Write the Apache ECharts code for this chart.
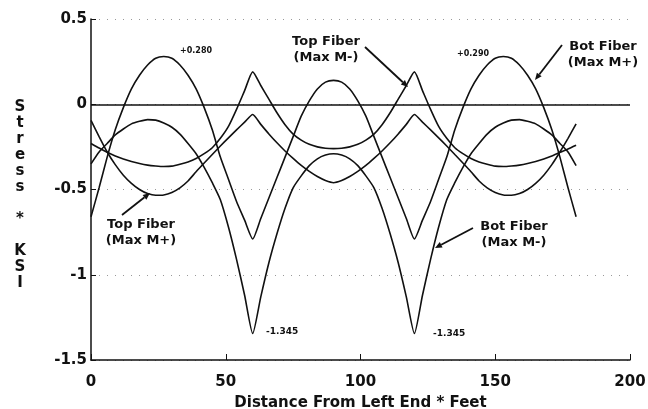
<!DOCTYPE html>
<html>
<head>
<meta charset="utf-8">
<script src="https://cdn.jsdelivr.net/npm/echarts@6/dist/echarts.min.js"></script>
<style>
  html, body { margin: 0; padding: 0; background: #fff; }
  #chart { width: 648px; height: 409px; }
</style>
</head>
<body>
<div id="chart"></div>
<script>
// distance from left end, feet (3 spans of 60 ft)
const distance = [0, 3, 6, 9, 12, 15, 18, 21, 24, 27, 30, 33, 36, 39, 42, 45, 48, 51, 54, 57, 60,
  63, 66, 69, 72, 75, 78, 81, 84, 87, 90, 93, 96, 99, 102, 105, 108, 111, 114, 117, 120,
  123, 126, 129, 132, 135, 138, 141, 144, 147, 150, 153, 156, 159, 162, 165, 168, 171, 174, 177, 180];

// stress, ksi
const botMaxPos = [-0.66, -0.49, -0.31, -0.15, -0.02, 0.09, 0.17, 0.23, 0.27, 0.28, 0.27, 0.23, 0.17, 0.09, -0.02, -0.15, -0.31, -0.44, -0.57, -0.68, -0.79,
  -0.67, -0.55, -0.43, -0.31, -0.19, -0.07, 0.02, 0.09, 0.13, 0.14, 0.13, 0.09, 0.02, -0.07, -0.19, -0.31, -0.43, -0.55, -0.67, -0.79,
  -0.68, -0.57, -0.44, -0.31, -0.15, -0.02, 0.09, 0.17, 0.23, 0.27, 0.28, 0.27, 0.23, 0.17, 0.09, -0.02, -0.15, -0.31, -0.49, -0.66];

const botMaxNeg = [-0.35, -0.28, -0.23, -0.18, -0.145, -0.115, -0.1, -0.09, -0.093, -0.11, -0.135, -0.175, -0.23, -0.29, -0.37, -0.46, -0.56, -0.72, -0.91, -1.12, -1.345,
  -1.13, -0.93, -0.76, -0.61, -0.49, -0.42, -0.36, -0.32, -0.298, -0.29, -0.298, -0.32, -0.36, -0.42, -0.49, -0.61, -0.76, -0.93, -1.13, -1.345,
  -1.12, -0.91, -0.72, -0.56, -0.46, -0.37, -0.29, -0.23, -0.175, -0.135, -0.11, -0.093, -0.09, -0.1, -0.115, -0.145, -0.18, -0.23, -0.28, -0.36];

const topMaxNeg = [-0.23, -0.257, -0.282, -0.303, -0.321, -0.336, -0.348, -0.357, -0.362, -0.365, -0.363, -0.352, -0.338, -0.318, -0.29, -0.255, -0.2, -0.13, -0.03, 0.08, 0.19,
  0.11, 0.03, -0.05, -0.12, -0.175, -0.21, -0.235, -0.25, -0.258, -0.26, -0.258, -0.25, -0.235, -0.21, -0.175, -0.12, -0.05, 0.03, 0.11, 0.19,
  0.08, -0.03, -0.13, -0.2, -0.255, -0.29, -0.318, -0.338, -0.352, -0.363, -0.365, -0.362, -0.357, -0.348, -0.336, -0.321, -0.303, -0.282, -0.262, -0.24];

const topMaxPos = [-0.094, -0.19, -0.28, -0.354, -0.416, -0.464, -0.5, -0.524, -0.534, -0.532, -0.517, -0.49, -0.45, -0.396, -0.345, -0.295, -0.245, -0.197, -0.15, -0.105, -0.06,
  -0.118, -0.174, -0.226, -0.274, -0.318, -0.359, -0.394, -0.424, -0.447, -0.46, -0.447, -0.424, -0.394, -0.359, -0.318, -0.274, -0.226, -0.174, -0.118, -0.06,
  -0.105, -0.15, -0.197, -0.245, -0.295, -0.345, -0.396, -0.45, -0.49, -0.517, -0.532, -0.534, -0.524, -0.5, -0.464, -0.416, -0.354, -0.28, -0.2, -0.115];

const yTicks = [-1.5, -1, -0.5, 0, 0.5];
const xTicks = [0, 50, 100, 150, 200];

const font = "DejaVu Sans";
const ink = "#111";

const myChart = echarts.init(document.getElementById("chart"));

function pairs(arr) {
  return distance.map((d, i) => [d, arr[i]]);
}

function lineSeries(name, arr) {
  return {
    name: name,
    type: "line",
    data: pairs(arr),
    showSymbol: false,
    smooth: 0.2,
    lineStyle: { color: ink, width: 1.6 },
    itemStyle: { color: ink },
  };
}

// arrow = line + small filled head at (x2,y2)
function arrow(x1, y1, x2, y2) {
  const a = Math.atan2(y2 - y1, x2 - x1);
  const len = 7, w = 3;
  const bx = x2 - len * Math.cos(a), by = y2 - len * Math.sin(a);
  return {
    type: "group",
    children: [
      { type: "line", shape: { x1: x1, y1: y1, x2: bx, y2: by }, style: { stroke: ink, lineWidth: 1.8 } },
      {
        type: "polygon",
        shape: {
          points: [
            [x2, y2],
            [bx + w * Math.sin(a), by - w * Math.cos(a)],
            [bx - w * Math.sin(a), by + w * Math.cos(a)],
          ],
        },
        style: { fill: ink },
      },
    ],
  };
}

function label(text, x, y, size, align) {
  return {
    type: "text",
    x: x,
    y: y,
    style: {
      text: text,
      font: "bold " + size + "px '" + font + "'",
      fill: ink,
      align: align || "center",
      verticalAlign: "middle",
      lineHeight: 16,
    },
  };
}

const series = [
  lineSeries("Bot Fiber (Max M+)", botMaxPos),
  lineSeries("Bot Fiber (Max M-)", botMaxNeg),
  lineSeries("Top Fiber (Max M-)", topMaxNeg),
  lineSeries("Top Fiber (Max M+)", topMaxPos),
];
series[0].markLine = {
  silent: true,
  symbol: ["none", "none"],
  label: { show: false },
  lineStyle: { color: ink, type: "solid", width: 1.5 },
  data: [{ yAxis: 0 }],
};

myChart.setOption({
  animation: false,
  backgroundColor: "#fff",
  grid: { left: 91, right: 18, top: 19, bottom: 49, outerBoundsMode: "none", containLabel: false },
  xAxis: {
    type: "value",
    min: xTicks[0],
    max: xTicks[xTicks.length - 1],
    interval: 50,
    name: "Distance From Left End * Feet",
    nameLocation: "middle",
    nameGap: 36,
    nameTextStyle: { color: ink, fontFamily: font, fontWeight: "bold", fontSize: 15 },
    axisLine: { onZero: false, lineStyle: { color: ink, width: 1.5 } },
    axisTick: { inside: true, length: 6, lineStyle: { color: ink, width: 1 } },
    axisLabel: { color: ink, fontFamily: font, fontWeight: "bold", fontSize: 15, margin: 15 },
    splitLine: { show: false },
  },
  yAxis: {
    type: "value",
    min: yTicks[0],
    max: yTicks[yTicks.length - 1],
    interval: 0.5,
    axisLine: { show: true, onZero: false, lineStyle: { color: ink, width: 1.5 } },
    axisTick: { show: true, inside: true, length: 5, lineStyle: { color: ink, width: 1 } },
    axisLabel: { color: ink, fontFamily: font, fontWeight: "bold", fontSize: 15, margin: 4 },
    splitLine: { show: true, lineStyle: { color: "#999", type: [1, 7], width: 1 } },
  },
  series: series,
  graphic: [
    label("S\nt\nr\ne\ns\ns\n\n*\n\nK\nS\nI", 20, 195, 15),
    label("Top Fiber\n(Max M-)", 326, 50, 13),
    label("Bot Fiber\n(Max M+)", 603, 55, 13),
    label("Top Fiber\n(Max M+)", 141, 233, 13),
    label("Bot Fiber\n(Max M-)", 514, 235, 13),
    label("+0.280", 180, 51, 8, "left"),
    label("+0.290", 457, 54, 8, "left"),
    label("-1.345", 266, 332, 9, "left"),
    label("-1.345", 433, 334, 9, "left"),
    arrow(365, 47, 408, 87),
    arrow(562, 45, 535, 80),
    arrow(122, 215, 150, 193),
    arrow(473, 228, 435, 248),
  ],
});
</script>
</body>
</html>
